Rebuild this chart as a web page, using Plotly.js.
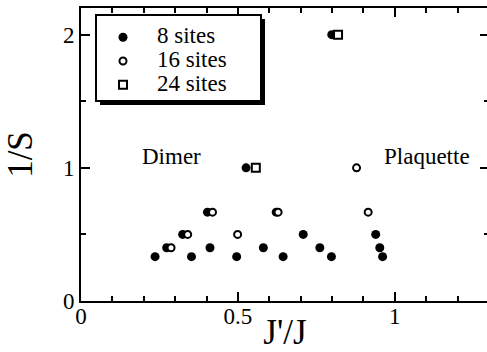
<!DOCTYPE html>
<html>
<head>
<meta charset="utf-8">
<script src="https://cdn.plot.ly/plotly-3.0.1.min.js"></script>
</head>
<body style="margin:0;padding:0;overflow:hidden;background:#fff">
<div id="chart" style="width:490px;height:352px"></div>
<script>
// Data (x = J'/J, y = 1/S)
var seriesNames = ["8 sites", "16 sites", "24 sites"];
var sites8X = [0.236, 0.352, 0.496, 0.644, 0.798, 0.961, 0.273, 0.411, 0.581, 0.761, 0.952, 0.324, 0.708, 0.939, 0.403, 0.622, 0.526, 0.799];
var sites8Y = [0.333, 0.333, 0.333, 0.333, 0.333, 0.333, 0.4, 0.4, 0.4, 0.4, 0.4, 0.5, 0.5, 0.5, 0.667, 0.667, 1, 2];
var sites16X = [0.287, 0.340, 0.499, 0.419, 0.628, 0.915, 0.878];
var sites16Y = [0.4, 0.5, 0.5, 0.667, 0.667, 0.667, 1];
var sites24X = [0.557, 0.819];
var sites24Y = [1, 2];
var regionLabels = ["Dimer", "Plaquette"];
var regionX = [0.287, 1.102];
var regionY = [1.083, 1.083];

var FONT = "Liberation Serif";
function legendName(s){ return '<span style="font-size:23px">' + s + '</span>'; }

var traces = [
  {x: sites8X, y: sites8Y, name: legendName(seriesNames[0]), type: "scatter", mode: "markers",
   marker: {symbol: "circle", size: 9, color: "#000", line: {width: 0}}},
  {x: sites16X, y: sites16Y, name: legendName(seriesNames[1]), type: "scatter", mode: "markers",
   marker: {symbol: "circle", size: 7, color: "#fff", line: {color: "#000", width: 2}}},
  {x: sites24X, y: sites24Y, name: legendName(seriesNames[2]), type: "scatter", mode: "markers",
   marker: {symbol: "square", size: 8, color: "#fff", line: {color: "#000", width: 2}}}
];

function axisBase() {
  return {
    showline: true, linewidth: 2, linecolor: "#000", mirror: "ticks",
    ticks: "inside", ticklen: 9, tickwidth: 2, tickcolor: "#000",
    showgrid: false, zeroline: false,
    tickfont: {family: FONT, size: 23, color: "#000"}
  };
}

var xa = axisBase();
xa.range = [0, 1.3]; xa.dtick = 0.5; xa.tick0 = 0;
xa.ticklabelstandoff = -7;
xa.minor = {ticks: "inside", ticklen: 5, tickwidth: 2, tickcolor: "#000", dtick: 0.1, showgrid: false};
xa.title = {text: "J'/J", font: {family: FONT, size: 35, color: "#000"}, standoff: 18};

var ya = axisBase();
ya.range = [0, 2.2]; ya.dtick = 1; ya.tick0 = 0;
ya.minor = {ticks: "inside", ticklen: 5, tickwidth: 2, tickcolor: "#000", dtick: 0.5, showgrid: false};
ya.title = {text: "1/S", font: {family: FONT, size: 35, color: "#000"}, standoff: 20};

var layout = {
  width: 490, height: 352,
  margin: {l: 81, r: 1, t: 8, b: 51},
  paper_bgcolor: "#fff", plot_bgcolor: "#fff",
  font: {family: FONT, size: 23, color: "#000"},
  showlegend: true,
  legend: {x: 0.0196, y: 0.958, xanchor: "left", yanchor: "top",
           bgcolor: "rgba(0,0,0,0)", borderwidth: 0, itemwidth: 58,
           font: {family: FONT, size: 16, color: "#000"}},
  xaxis: xa,
  yaxis: ya,
  shapes: [
    {type: "rect", xref: "paper", yref: "paper", x0: 0.0466, x1: 0.451, y0: 0.6689, y1: 0.9625,
     fillcolor: "#000", line: {width: 0}, layer: "above"},
    {type: "rect", xref: "paper", yref: "paper", x0: 0.0368, x1: 0.4412, y0: 0.6826, y1: 0.9761,
     fillcolor: "#fff", line: {color: "#000", width: 2}, layer: "above"}
  ],
  annotations: regionLabels.map(function(t, i){
    return {x: regionX[i], y: regionY[i], xref: "x", yref: "y", text: t, showarrow: false,
            font: {family: FONT, size: 23, color: "#000"}};
  })
};

Plotly.newPlot("chart", traces, layout, {displayModeBar: false});
</script>
</body>
</html>
